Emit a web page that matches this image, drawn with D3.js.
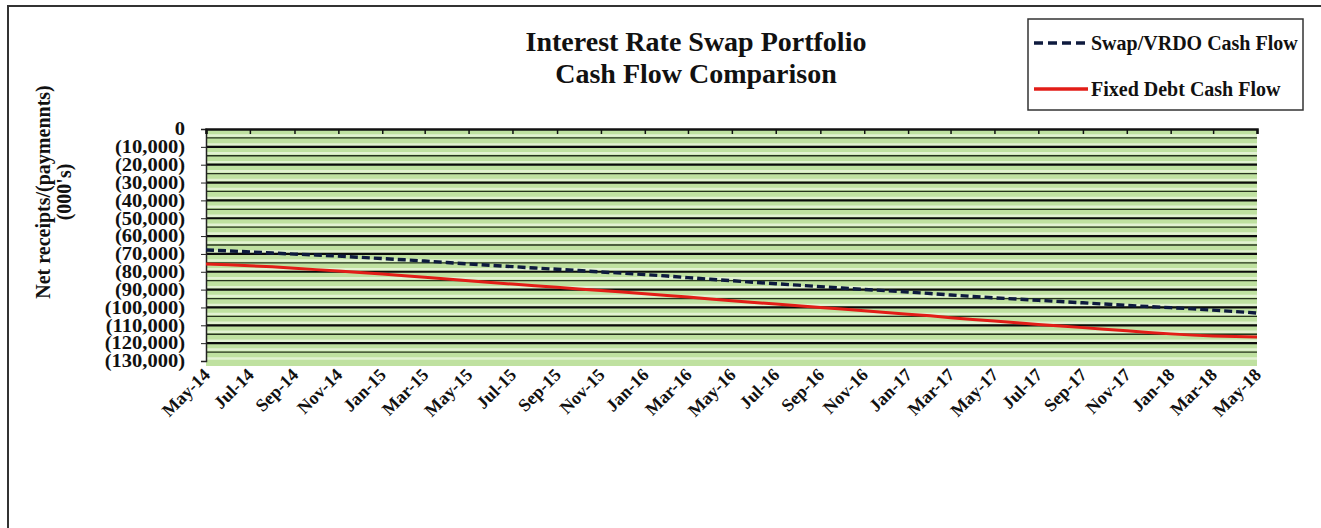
<!DOCTYPE html>
<html>
<head>
<meta charset="utf-8">
<script src="https://cdn.jsdelivr.net/npm/d3@7"></script>
<style>
  body { margin: 0; background: #fff; }
  text { font-family: "Liberation Serif", "Times New Roman", serif; font-weight: bold; fill: #111; }
</style>
</head>
<body>
<svg width="1321" height="528"></svg>
<script>
const svg = d3.select("svg");

// monthly data, May-14 .. May-18, in thousands
const months = d3.range(49).map(i => new Date(2014, 4 + i, 1));
const swapFlow = [
  -67.8, -68.3, -68.9, -69.5, -70.1, -70.6, -71.2, -71.9, -72.6, -73.3, -74.0, -74.8,
  -75.6, -76.4, -77.1, -77.9, -78.6, -79.3, -80.1, -80.8, -81.6, -82.4, -83.3, -84.2,
  -85.0, -85.9, -86.7, -87.5, -88.3, -89.1, -89.9, -90.6, -91.4, -92.2, -93.0, -93.8,
  -94.6, -95.3, -96.0, -96.7, -97.4, -98.1, -98.8, -99.5, -100.1, -100.8, -101.5, -102.3,
  -103.1
];
const fixedFlow = [
  -75.6, -76.1, -76.6, -77.2, -78.0, -78.8, -79.6, -80.4, -81.3, -82.2, -83.1, -84.0,
  -85.0, -86.0, -86.9, -87.8, -88.7, -89.6, -90.5, -91.4, -92.3, -93.3, -94.2, -95.2,
  -96.2, -97.2, -98.1, -99.1, -100.0, -100.9, -101.9, -102.8, -103.8, -104.7, -105.7, -106.7,
  -107.6, -108.6, -109.5, -110.4, -111.3, -112.2, -113.1, -114.0, -114.8, -115.5, -116.0, -116.3,
  -116.5
];
const yTicks = d3.range(0, -130001, -10000);
const seriesNames = ["Swap/VRDO Cash Flow", "Fixed Debt Cash Flow"];

const plotLeft = 206, plotRight = 1257, plotTop = 129, plotBottom = 361;

const x = d3.scaleTime()
  .domain([months[0], months[months.length - 1]])
  .range([plotLeft, plotRight]);
const y = d3.scaleLinear().domain([0, -130000]).range([plotTop, plotBottom]);

// outer frame
svg.append("path")
  .attr("d", "M8,528 L8,6 L1321,6")
  .attr("fill", "none")
  .attr("stroke", "#333")
  .attr("stroke-width", 2);

// plot background
svg.append("rect")
  .attr("x", plotLeft).attr("y", plotTop)
  .attr("width", plotRight - plotLeft).attr("height", plotBottom - plotTop + 5)
  .attr("fill", "#bfe1a0");

// light stripes
const stripes = d3.range(-2500, -130001, -5000);
svg.append("g").selectAll("line").data(stripes).enter().append("line")
  .attr("x1", plotLeft).attr("x2", plotRight)
  .attr("y1", d => y(d) + 2).attr("y2", d => y(d) + 2)
  .attr("stroke", "#e2f2d2").attr("stroke-width", 2.5);

// minor gridlines
const minor = d3.range(-5000, -130001, -10000);
svg.append("g").selectAll("line").data(minor).enter().append("line")
  .attr("x1", plotLeft).attr("x2", plotRight)
  .attr("y1", d => y(d)).attr("y2", d => y(d))
  .attr("stroke", "#26331d").attr("stroke-width", 1.3);

// major gridlines
svg.append("g").selectAll("line").data(yTicks.slice(1, -1)).enter().append("line")
  .attr("x1", plotLeft).attr("x2", plotRight)
  .attr("y1", d => y(d)).attr("y2", d => y(d))
  .attr("stroke", "#0b0b0b").attr("stroke-width", 2.2);

// y axis
const yAxis = svg.append("g")
  .attr("transform", `translate(${plotLeft},0)`)
  .call(d3.axisLeft(y).tickValues(yTicks).tickSize(5).tickPadding(0)
    .tickFormat(d => d === 0 ? "0" : "(" + d3.format(",")(-d) + ")"));
yAxis.select(".domain").attr("stroke", "#222").attr("stroke-width", 1.5);
yAxis.selectAll(".tick line").attr("stroke", "#222");
yAxis.selectAll("text")
  .attr("x", -21 / 1.14)
  .attr("transform", "scale(1.14,1)")
  .style("font-family", "'Liberation Serif', serif")
  .style("font-weight", "bold")
  .style("font-size", "18px")
  .attr("fill", "#111");

// x axis: ticks on the zero line, labels below the plot
const xTicks = months.filter((d, i) => i % 2 === 0);
const xTop = svg.append("g")
  .attr("transform", `translate(0,${plotTop})`)
  .call(d3.axisBottom(x).tickValues(xTicks).tickSize(5).tickFormat(""));
xTop.select(".domain").attr("stroke", "#111").attr("stroke-width", 2.5);
xTop.selectAll(".tick line").attr("stroke", "#111").attr("stroke-width", 1.5);

const fmt = d3.timeFormat("%b-%y");
svg.append("g").selectAll("text").data(xTicks).enter().append("text")
  .attr("transform", d => `translate(${x(d) + 5},${plotBottom + 15}) rotate(-45)`)
  .attr("text-anchor", "end")
  .attr("font-size", 18)
  .text(d => fmt(d));

// lines
const line = d3.line().x((d, i) => x(months[i])).y(d => y(d * 1000));
svg.append("path").datum(fixedFlow)
  .attr("d", line).attr("fill", "none")
  .attr("stroke", "#e21d17").attr("stroke-width", 3);
svg.append("path").datum(swapFlow)
  .attr("d", line).attr("fill", "none")
  .attr("stroke", "#0e1a3e").attr("stroke-width", 3.4)
  .attr("stroke-dasharray", "8,4");

// title
svg.append("text").attr("x", 696).attr("y", 51)
  .attr("text-anchor", "middle").attr("font-size", 28)
  .text("Interest Rate Swap Portfolio");
svg.append("text").attr("x", 696).attr("y", 83)
  .attr("text-anchor", "middle").attr("font-size", 28)
  .text("Cash Flow Comparison");

// y axis title
svg.append("text")
  .attr("transform", "translate(50,192) rotate(-90)")
  .attr("text-anchor", "middle").attr("font-size", 20)
  .text("Net receipts/(paymennts)");
svg.append("text")
  .attr("transform", "translate(71,192) rotate(-90)")
  .attr("text-anchor", "middle").attr("font-size", 20)
  .text("(000's)");

// legend
const legend = svg.append("g");
legend.append("rect")
  .attr("x", 1028).attr("y", 19).attr("width", 275).attr("height", 91)
  .attr("fill", "#fff").attr("stroke", "#333").attr("stroke-width", 1.5);
const legendRows = [
  { name: seriesNames[0], color: "#0e1a3e", dash: "9,5", y: 43 },
  { name: seriesNames[1], color: "#e21d17", dash: null, y: 89 }
];
legendRows.forEach(r => {
  legend.append("line")
    .attr("x1", 1034).attr("x2", 1088).attr("y1", r.y).attr("y2", r.y)
    .attr("stroke", r.color).attr("stroke-width", 3.4)
    .attr("stroke-dasharray", r.dash);
  legend.append("text")
    .attr("x", 1091).attr("y", r.y + 7)
    .attr("font-size", 20)
    .text(r.name);
});
</script>
</body>
</html>
